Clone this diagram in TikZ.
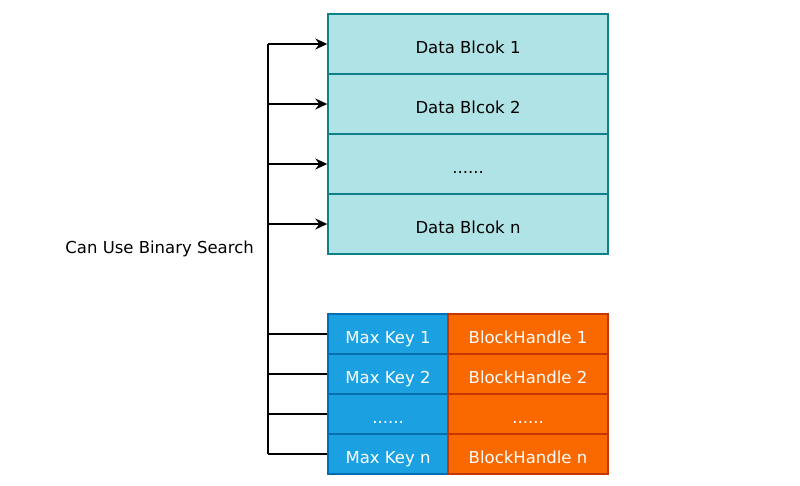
\documentclass[tikz,border=0pt]{standalone}
\usepackage{fontspec}
\setmainfont{DejaVu Sans}
\usetikzlibrary{arrows.meta}
\definecolor{dfill}{HTML}{B0E3E6}
\definecolor{dline}{HTML}{0E8088}
\definecolor{kfill}{HTML}{1BA1E2}
\definecolor{kline}{HTML}{006EAF}
\definecolor{hfill}{HTML}{FA6800}
\definecolor{hline}{HTML}{C73500}
\tikzset{
  txt/.style={font=\fontsize{16.5}{19}\selectfont, text height=18pt, text depth=0pt},
  dblock/.style={txt, draw=dline, fill=dfill, line width=1.4pt, minimum width=280pt, minimum height=60pt, inner sep=0pt},
  kblock/.style={txt, draw=kline, fill=kfill, line width=1.4pt, minimum width=120pt, minimum height=40pt, inner sep=0pt, text=white},
  hblock/.style={txt, draw=hline, fill=hfill, line width=1.4pt, minimum width=160pt, minimum height=40pt, inner sep=0pt, text=white},
  conn/.style={line width=1.5pt, black},
  arr/.style={conn, -{Stealth[length=12pt,width=11pt,inset=4pt]}},
}
\begin{document}
\begin{tikzpicture}[x=1pt,y=-1pt]
\useasboundingbox (0,0) rectangle (800,485);
\node[dblock] (d1) at (468,44) {Data Blcok 1};
\node[dblock] (d2) at (468,104) {Data Blcok 2};
\node[dblock] (d3) at (468,164) {......};
\node[dblock] (d4) at (468,224) {Data Blcok n};
\node[kblock] (k1) at (388,334) {Max Key 1};
\node[kblock] (k2) at (388,374) {Max Key 2};
\node[kblock] (k3) at (388,414) {......};
\node[kblock] (k4) at (388,454) {Max Key n};
\node[hblock] (h1) at (528,334) {BlockHandle 1};
\node[hblock] (h2) at (528,374) {BlockHandle 2};
\node[hblock] (h3) at (528,414) {......};
\node[hblock] (h4) at (528,454) {BlockHandle n};
\node[txt, anchor=east, inner sep=0pt] (lbl) at (254,244) {Can Use Binary Search};
\coordinate (top) at (268,44);
\coordinate (bot) at (268,454);
\draw[conn] (top) -- (bot);
\foreach \n in {d1,d2,d3,d4} {
  \draw[arr] (top |- \n.west) -- (\n.west);
}
\foreach \n in {k1,k2,k3,k4} {
  \draw[conn] (top |- \n.west) -- (\n.west);
}
\end{tikzpicture}
\end{document}
